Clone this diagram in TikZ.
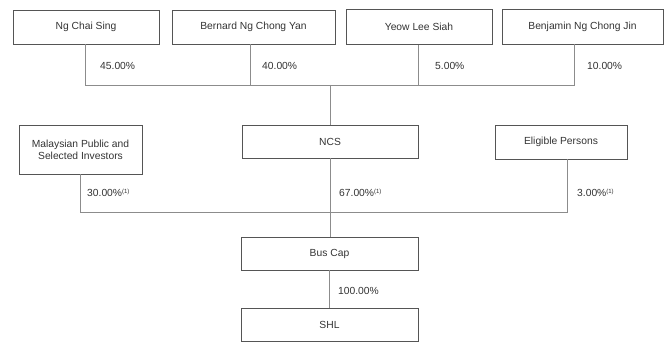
\documentclass[tikz,border=0pt]{standalone}
\usepackage{fontspec}
\setmainfont{Liberation Sans}
\definecolor{boxline}{HTML}{555555}
\definecolor{connline}{HTML}{8C8C8C}
\definecolor{txt}{HTML}{333333}
\begin{document}
\begin{tikzpicture}[x=1pt,y=-1pt,
  font=\fontsize{10.3}{12}\selectfont,
  entity/.style={draw=boxline,line width=0.9pt,text=txt,inner sep=0pt,align=center},
  conn/.style={draw=connline,line width=0.8pt},
  pct/.style={anchor=west,text=txt,inner sep=0pt}]
\useasboundingbox (0,0) rectangle (670,342);
\newcommand{\fnm}{\textsuperscript{\fontsize{6}{7}\selectfont(1)}}
% top row
\node[entity,minimum width=146,minimum height=34] (ncsg) at (86,27) {Ng Chai Sing};
\node[entity,minimum width=163,minimum height=34] (bncy) at (253.5,27) {Bernard Ng Chong Yan};
\node[entity,minimum width=146,minimum height=35] (yls) at (419,27) {Yeow Lee Siah};
\node[entity,minimum width=161,minimum height=35] (bncj) at (582.5,26.5) {Benjamin Ng Chong Jin};
% middle row
\node[entity,minimum width=123,minimum height=49] (mpsi) at (80.5,149.5) {Malaysian Public and\\Selected Investors};
\node[entity,minimum width=176,minimum height=33] (ncs) at (330,141.5) {NCS};
\node[entity,minimum width=132,minimum height=34] (ep) at (561,142) {Eligible Persons};
% lower
\node[entity,minimum width=177,minimum height=33] (bus) at (329.5,253.5) {Bus Cap};
\node[entity,minimum width=177,minimum height=33] (shl) at (329.5,325) {SHL};
% junction coordinates
\coordinate (l1) at (85,85);
\coordinate (l2) at (250,85);
\coordinate (l3) at (418,85);
\coordinate (l4) at (574,85);
\coordinate (j1) at (330,85);
\coordinate (m1) at (80,212);
\coordinate (m3) at (567,212);
\coordinate (j2) at (330,212);
% top connectors
\draw[conn] (l1 |- ncsg.south) -- (l1) -- (l4) -- (l4 |- bncj.south);
\draw[conn] (l2 |- bncy.south) -- (l2);
\draw[conn] (l3 |- yls.south) -- (l3);
\draw[conn] (j1) -- (j1 |- ncs.north);
% middle connectors
\draw[conn] (m1 |- mpsi.south) -- (m1) -- (m3) -- (m3 |- ep.south);
\draw[conn] (j2 |- ncs.south) -- (j2 |- bus.north);
\draw[conn] (bus.south) -- (shl.north);
% labels
\node[pct] (p1) at (100,66) {45.00\%};
\node[pct] (p2) at (262,66) {40.00\%};
\node[pct] (p3) at (435,66) {5.00\%};
\node[pct] (p4) at (587,66) {10.00\%};
\node[pct] (p5) at (87,193) {30.00\%\fnm};
\node[pct] (p6) at (339,193) {67.00\%\fnm};
\node[pct] (p7) at (577,193) {3.00\%\fnm};
\node[pct] (p8) at (338,291) {100.00\%};
\end{tikzpicture}
\end{document}
